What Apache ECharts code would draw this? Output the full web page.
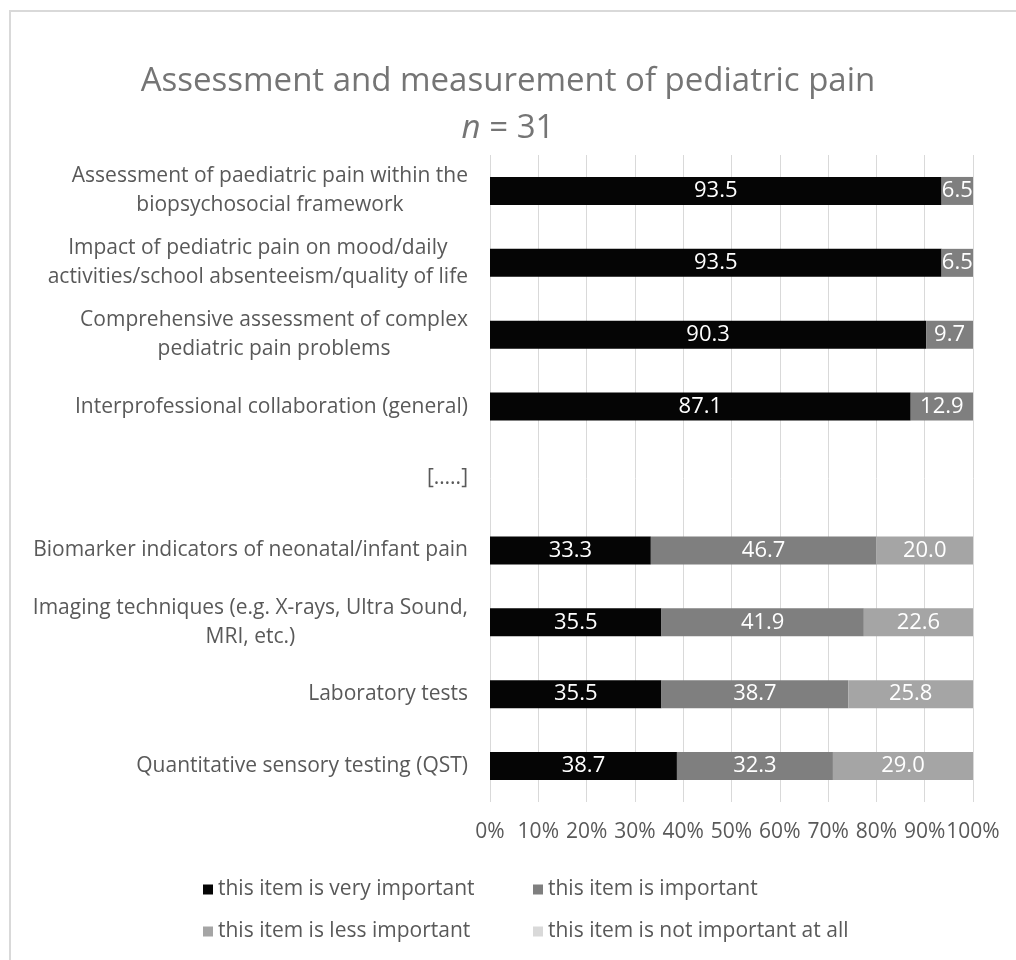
<!DOCTYPE html>
<html>
<head>
<meta charset="utf-8">
<script src="https://cdn.jsdelivr.net/npm/echarts@6/dist/echarts.min.js"></script>
<style>
  html, body { margin: 0; padding: 0; background: #fff; }
  #main { width: 1016px; height: 960px; }
</style>
</head>
<body>
<div id="main"></div>
<script>
// categories, top to bottom
const categories = [
  'Assessment of paediatric pain within the\nbiopsychosocial framework',
  'Impact of pediatric pain on mood/daily\nactivities/school absenteeism/quality of life',
  'Comprehensive assessment of complex\npediatric pain problems',
  'Interprofessional collaboration (general)',
  '[…..]',
  'Biomarker indicators of neonatal/infant pain',
  'Imaging techniques (e.g. X-rays, Ultra Sound,\nMRI, etc.)',
  'Laboratory tests',
  'Quantitative sensory testing (QST)'
];
const veryImportant = [93.5, 93.5, 90.3, 87.1, null, 33.3, 35.5, 35.5, 38.7];
const important     = [6.5, 6.5, 9.7, 12.9, null, 46.7, 41.9, 38.7, 32.3];
const lessImportant = [0, 0, 0, 0, null, 20.0, 22.6, 25.8, 29.0];
const notImportant  = [0, 0, 0, 0, null, 0, 0, 0, 0];
const seriesNames = [
  'this item is very important',
  'this item is important',
  'this item is less important',
  'this item is not important at all'
];
const colors = ['#050505', '#7f7f7f', '#a5a5a5', '#d9d9d9'];

const FONT = 'Open Sans';
const FS = 21;      // category, legend and tick text
const NUM_FS = 22;  // bar labels
const chart = echarts.init(document.getElementById('main'), null, { renderer: 'canvas' });

function bar(name, data, color) {
  return {
    name: name,
    type: 'bar',
    stack: 'total',
    barWidth: 28,
    data: data,
    itemStyle: { color: color },
    label: {
      show: true,
      color: '#fff',
      fontFamily: FONT,
      fontSize: NUM_FS,
      formatter: p => (p.value ? p.value.toFixed(1) : '')
    },
    animation: false
  };
}

function legendAt(i, left, top) {
  return {
    data: [seriesNames[i]],
    left: left,
    top: top,
    icon: 'rect',
    itemWidth: 10,
    itemHeight: 10,
    itemGap: 4,
    textStyle: { color: '#595959', fontFamily: FONT, fontSize: FS, padding: [0, 0, 0, 0] },
    selectedMode: false
  };
}

chart.setOption({
  backgroundColor: '#fff',
  graphic: [{
    type: 'rect',
    shape: { x: 10, y: 11, width: 1100, height: 1000 },
    style: { fill: 'none', stroke: '#d9d9d9', lineWidth: 2 },
    silent: true
  }],
  title: [{
    text: 'Assessment and measurement of pediatric pain',
    left: 'center',
    top: 60,
    textStyle: { color: '#757575', fontFamily: FONT, fontSize: 33, fontWeight: 'normal' }
  }, {
    text: '{i|n} = 31',
    left: 'center',
    top: 107,
    textStyle: {
      color: '#757575', fontFamily: FONT, fontSize: 33, fontWeight: 'normal',
      rich: { i: { fontStyle: 'italic', color: '#757575', fontFamily: FONT, fontSize: 33 } }
    }
  }],
  legend: [
    legendAt(0, 198, 874),
    legendAt(1, 528, 874),
    legendAt(2, 198, 916),
    legendAt(3, 528, 916)
  ],
  grid: { left: 490, right: 43, top: 155, bottom: 158, containLabel: false },
  xAxis: {
    type: 'value',
    min: 0,
    max: 100,
    interval: 10,
    axisLine: { show: false },
    axisTick: { show: false },
    splitLine: { lineStyle: { color: '#d9d9d9', width: 1 } },
    axisLabel: {
      formatter: '{value}%',
      color: '#595959',
      fontFamily: FONT,
      fontSize: FS,
      margin: 20,
      showMinLabel: true,
      showMaxLabel: true,
      hideOverlap: false
    }
  },
  yAxis: {
    type: 'category',
    inverse: true,
    data: categories,
    axisLine: { show: false },
    axisTick: { show: false },
    axisLabel: {
      interval: 0,
      margin: 22,
      color: '#595959',
      fontFamily: FONT,
      fontSize: FS,
      lineHeight: 29,
      formatter: v => v.split('\n').map(s => '{c|' + s + '}').join('\n'),
      rich: { c: { align: 'center', color: '#595959', fontFamily: FONT, fontSize: FS, lineHeight: 29 } }
    }
  },
  series: [
    bar(seriesNames[0], veryImportant, colors[0]),
    bar(seriesNames[1], important, colors[1]),
    bar(seriesNames[2], lessImportant, colors[2]),
    bar(seriesNames[3], notImportant, colors[3])
  ]
});
</script>
</body>
</html>
